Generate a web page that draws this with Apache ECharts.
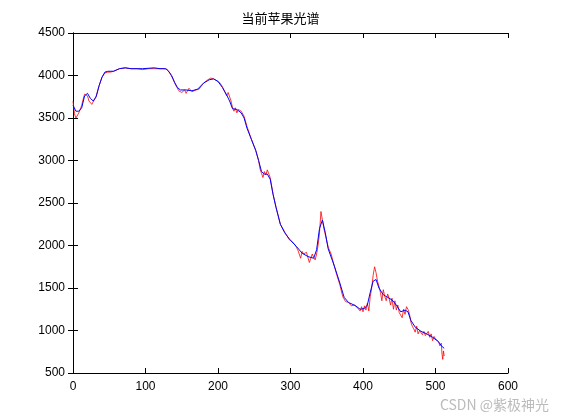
<!DOCTYPE html>
<html><head><meta charset="utf-8">
<script src="https://cdn.jsdelivr.net/npm/echarts@6/dist/echarts.min.js"></script>
<style>html,body{margin:0;background:#fff}#c{width:561px;height:420px}</style>
</head><body><div id="c"></div>
<script>
const title = '当前苹果光谱';
const blueX = [0,4,8,12,16,20,24,28,32,36,40,44,48,56,64,72,80,96,112,120,128,132,136,140,144,148,156,164,172,180,188,194,200,206,212,216,220,226,232,236,240,246,252,256,260,264,268,272,276,280,286,292,300,308,316,324,332,336,340,344,348,352,360,368,374,380,390,396,402,406,410,414,418,422,428,434,440,446,452,458,462,466,472,480,488,496,504,508,512];
const blueY = [3650,3580,3580,3620,3760,3790,3730,3700,3750,3880,3980,4040,4050,4050,4080,4090,4080,4080,4090,4080,4080,4050,4000,3920,3860,3830,3830,3820,3840,3910,3950,3960,3930,3860,3770,3700,3610,3600,3560,3500,3380,3250,3120,3000,2870,2840,2840,2780,2600,2450,2250,2150,2060,1990,1910,1870,1850,1950,2200,2300,2150,1960,1770,1560,1390,1330,1290,1250,1260,1300,1450,1580,1600,1500,1420,1390,1360,1300,1220,1240,1220,1120,1040,990,960,920,870,820,790];
const redX = [0,2,4,6,8,10,12,14,16,18,20,22,24,26,28,32,36,40,44,48,52,56,64,72,80,88,96,104,112,120,126,130,134,138,142,146,148,150,154,156,160,164,166,170,174,180,186,190,194,198,202,206,208,212,214,218,220,222,224,226,228,232,236,240,246,252,256,258,260,262,264,266,268,270,272,276,280,286,292,298,302,306,308,310,314,316,318,322,326,328,330,332,334,336,338,340,342,344,346,348,352,356,360,364,368,372,376,380,384,388,392,396,398,400,402,404,406,408,410,412,414,416,418,420,422,424,426,428,430,432,434,436,438,440,442,444,446,448,450,452,454,456,458,460,462,464,466,468,470,472,474,476,478,480,482,484,486,488,490,492,494,496,498,500,502,504,506,508,509,510,511,512];
const redY = [3700,3550,3500,3500,3560,3600,3650,3720,3780,3800,3760,3700,3700,3660,3680,3760,3880,3980,4030,4040,4040,4050,4080,4090,4080,4080,4070,4080,4080,4080,4080,4070,4020,3960,3880,3820,3840,3800,3830,3790,3850,3810,3790,3830,3840,3910,3950,3970,3960,3940,3920,3870,3890,3760,3800,3700,3620,3580,3620,3560,3600,3580,3520,3400,3250,3120,3000,2900,2850,2800,2870,2830,2890,2900,2800,2600,2450,2250,2160,2070,2050,2010,1980,1950,1850,1930,1900,1920,1800,1850,1900,1860,1830,1900,2000,2150,2400,2380,2200,2200,1980,1900,1770,1650,1540,1400,1340,1330,1290,1300,1270,1230,1280,1220,1290,1240,1320,1230,1400,1500,1650,1750,1680,1580,1520,1450,1350,1480,1400,1350,1430,1380,1300,1380,1250,1350,1240,1300,1210,1220,1150,1250,1190,1280,1250,1200,1100,1050,1020,980,1050,960,1000,1020,950,990,940,960,990,920,960,880,930,900,880,870,820,850,720,660,760,700];
const chart = echarts.init(document.getElementById('c'));
const lbl = {color:'#000',fontSize:12,fontFamily:'Liberation Sans',formatter:v=>String(v)};
const base = {
  axisLine:{show:true,lineStyle:{color:'#000',width:1}},
  axisTick:{show:true,inside:true,length:5,lineStyle:{color:'#000'}},
  splitLine:{show:false}
};
chart.setOption({
  animation:false,
  title:{text:title,left:'center',top:7,textStyle:{fontSize:13,fontWeight:'normal',color:'#000',fontFamily:'Noto Sans CJK SC'}},
  grid:{left:73,right:53,top:33,bottom:47},
  xAxis:[
    Object.assign({type:'value',min:0,max:600,interval:100,position:'bottom',axisLabel:lbl},base),
    Object.assign({type:'value',min:0,max:600,interval:100,position:'top',axisLabel:{show:false}},base)
  ],
  yAxis:[
    Object.assign({type:'value',min:500,max:4500,interval:500,position:'left',axisLabel:lbl},base),
    Object.assign({type:'value',min:500,max:4500,interval:500,position:'right',axisLabel:{show:false}},base)
  ],
  series:[
    {type:'line',data:redX.map((x,i)=>[x,redY[i]]),showSymbol:false,lineStyle:{color:'#ff0000',width:0.8}},
    {type:'line',data:blueX.map((x,i)=>[x,blueY[i]]),showSymbol:false,lineStyle:{color:'#0000ff',width:1}}
  ],
  graphic:[
    {type:'text',right:12,bottom:8,style:{text:'CSDN @紫极神光',fill:'#bbb',fontSize:14,fontFamily:'Noto Sans CJK SC'}}
  ]
});
</script></body></html>
